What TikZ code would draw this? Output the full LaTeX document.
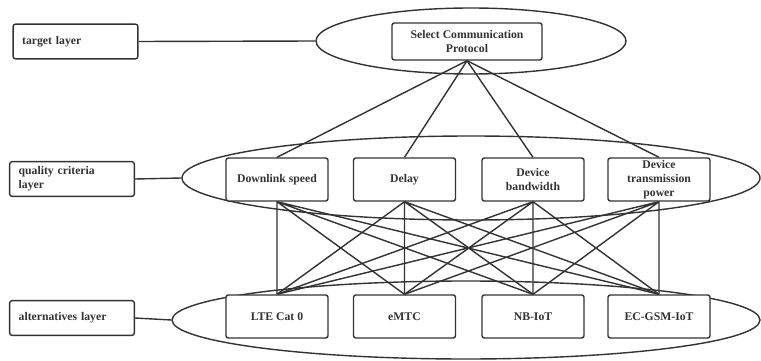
\documentclass[tikz,border=0pt]{standalone}
\usepackage{fontspec}
\setmainfont{Liberation Serif}
\usetikzlibrary{shapes.geometric}

\begin{document}
\begin{tikzpicture}[font=\bfseries\fontsize{10}{12}\selectfont, line width=1.2pt, draw=black!80, text=black!80,
      lay/.style={draw=black!80, rounded corners=2pt, align=left, text width=3.2cm, inner xsep=0.27cm, minimum height=1.04cm},
      box/.style={draw=black!80, fill=white, rounded corners=2pt, align=center, minimum width=3.06cm, minimum height=1.29cm, inner sep=1pt},
      ring/.style={draw=black!80, ellipse, inner sep=0pt}]
    \useasboundingbox (0,0) rectangle (22.83,-10.83);
    % layer ellipses
    \node[ring, minimum width=9.3cm, minimum height=1.98cm]   (top) at (14.13,-1.23) {};
    \node[ring, minimum width=17.34cm, minimum height=2.52cm] (mid) at (14.13,-5.34) {};
    \node[ring, minimum width=17.64cm, minimum height=2.34cm] (bot) at (13.98,-9.6) {};
    % layer names
    \node[lay] (tl) at (2.265,-1.245) {target layer};
    \node[lay] (ql) at (2.16,-5.37) {quality criteria\\layer};
    \node[lay] (al) at (2.16,-9.54) {alternatives layer};
    \draw (tl.east) -- (top.west);
    \draw (ql.east) -- (mid.west);
    \draw (al.east) -- (bot.west);
    % target
    \node[box, minimum width=4.5cm, minimum height=1.11cm] (sel) at (14.01,-1.245) {Select Communication\\Protocol};
    % criteria
    \node[box] (speed) at (8.31,-5.385)  {Downlink speed};
    \node[box] (delay) at (12.135,-5.385) {Delay};
    \node[box] (bw)    at (15.99,-5.385) {Device\\bandwidth};
    \node[box] (power) at (19.77,-5.385) {Device\\transmission\\power};
    % alternatives
    \node[box] (lte)   at (8.31,-9.495)  {LTE Cat 0};
    \node[box] (emtc)  at (12.135,-9.495) {eMTC};
    \node[box] (nbiot) at (15.99,-9.495) {NB-IoT};
    \node[box] (ecgsm) at (19.77,-9.495) {EC-GSM-IoT};
    \draw (sel.south) -- (speed.north);
    \draw (sel.south) -- (delay.north);
    \draw (sel.south) -- (bw.north);
    \draw (sel.south) -- (power.north);
    \draw (speed.south) -- (lte.north) (speed.south) -- (emtc.north) (speed.south) -- (nbiot.north) (speed.south) -- (ecgsm.north);
    \draw (delay.south) -- (lte.north) (delay.south) -- (emtc.north) (delay.south) -- (nbiot.north) (delay.south) -- (ecgsm.north);
    \draw (bw.south) -- (lte.north) (bw.south) -- (emtc.north) (bw.south) -- (nbiot.north) (bw.south) -- (ecgsm.north);
    \draw (power.south) -- (lte.north) (power.south) -- (emtc.north) (power.south) -- (nbiot.north) (power.south) -- (ecgsm.north);
  \end{tikzpicture}
\end{document}
